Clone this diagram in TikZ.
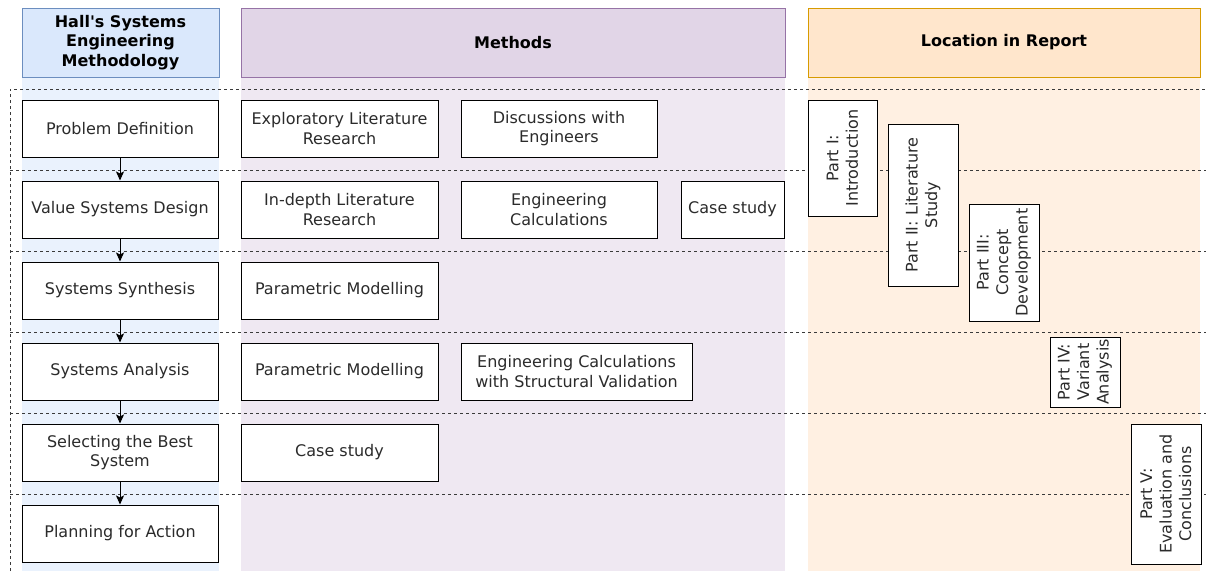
\documentclass[tikz,border=0pt]{standalone}
\usepackage{fontspec}
\setmainfont{DejaVu Sans}
\usetikzlibrary{arrows.meta}

\definecolor{blueHead}{HTML}{DAE8FC}
\definecolor{blueLine}{HTML}{6C8EBF}
\definecolor{blueBg}{HTML}{EAF2FD}
\definecolor{purpleHead}{HTML}{E1D5E7}
\definecolor{purpleLine}{HTML}{9673A6}
\definecolor{purpleBg}{HTML}{EFE8F2}
\definecolor{orangeHead}{HTML}{FFE6CC}
\definecolor{orangeLine}{HTML}{D79B00}
\definecolor{orangeBg}{HTML}{FFF0E2}
\definecolor{txt}{HTML}{2B2B2B}
\definecolor{dashcol}{HTML}{3A3A3A}

\tikzset{
  colhead/.style={draw, line width=1pt, inner sep=2pt, align=center,
    minimum height=69pt, font=\fontsize{16}{19.5}\selectfont\bfseries, text=black},
  stepbox/.style={draw=black, fill=white, line width=1pt, inner sep=2pt,
    align=center, minimum height=57pt, text=txt,
    font=\fontsize{16}{19.5}\selectfont},
  partbox/.style={stepbox, rotate=90},
  rowline/.style={draw=dashcol, line width=1pt, dash pattern=on 3pt off 3pt},
  flow/.style={draw=black, line width=1pt, -{Stealth[length=9pt,width=8pt,inset=2pt]}}
}

\begin{document}
\begin{tikzpicture}[x=1pt,y=-1pt]
\useasboundingbox (0,0) rectangle (1206,571);

% column backgrounds
\fill[blueBg]   (22,77)  rectangle (219,571);
\fill[purpleBg] (241,77) rectangle (785,571);
\fill[orangeBg] (808,77) rectangle (1200,571);

% column headers
\node[colhead, fill=blueHead, draw=blueLine, minimum width=197pt] (hall) at (120.5,42.5)
  {Hall\textquotesingle s Systems\\Engineering\\Methodology};
\node[colhead, fill=purpleHead, draw=purpleLine, minimum width=544pt] (methods) at (513,42.5)
  {Methods};
\node[colhead, fill=orangeHead, draw=orangeLine, minimum width=392pt] (loc) at (1004,42.5)
  {Location in Report};

% dashed row separators
\coordinate (frameTop) at (10,89);
\coordinate (frameBot) at (10,571);
\draw[rowline] (frameBot) -- (frameTop) -- (1206,89);
\foreach \y in {170,251,332,413,494}
  \draw[rowline] (10,\y) -- (1206,\y);

% methodology steps
\node[stepbox, minimum width=196pt] (s1) at (120,128.5) {Problem Definition};
\node[stepbox, minimum width=196pt] (s2) at (120,209.5) {Value Systems Design};
\node[stepbox, minimum width=196pt] (s3) at (120,290.5) {Systems Synthesis};
\node[stepbox, minimum width=196pt] (s4) at (120,371.5) {Systems Analysis};
\node[stepbox, minimum width=196pt] (s5) at (120,452.5) {Selecting the Best\\System};
\node[stepbox, minimum width=196pt] (s6) at (120,533.5) {Planning for Action};

\draw[flow] (s1) -- (s2);
\draw[flow] (s2) -- (s3);
\draw[flow] (s3) -- (s4);
\draw[flow] (s4) -- (s5);
\draw[flow] (s5) -- (s6);

% methods
\node[stepbox, minimum width=197pt] (m11) at (339.5,128.5) {Exploratory Literature\\Research};
\node[stepbox, minimum width=196pt] (m12) at (559,128.5) {Discussions with\\Engineers};
\node[stepbox, minimum width=197pt] (m21) at (339.5,209.5) {In-depth Literature\\Research};
\node[stepbox, minimum width=196pt] (m22) at (559,209.5) {Engineering\\Calculations};
\node[stepbox, minimum width=103pt] (m23) at (732.5,209.5) {Case study};
\node[stepbox, minimum width=197pt] (m3)  at (339.5,290.5) {Parametric Modelling};
\node[stepbox, minimum width=197pt] (m41) at (339.5,371.5) {Parametric Modelling};
\node[stepbox, minimum width=231pt] (m42) at (576.5,371.5) {Engineering Calculations\\with Structural Validation};
\node[stepbox, minimum width=197pt] (m5)  at (339.5,452.5) {Case study};

% report parts
\node[partbox, minimum width=116pt, minimum height=69pt] (p1) at (842.5,158) {Part I:\\Introduction};
\node[partbox, minimum width=162pt, minimum height=70pt] (p2) at (923,205) {Part II: Literature\\Study};
\node[partbox, minimum width=117pt, minimum height=70pt] (p3) at (1004,262.5) {Part III:\\Concept\\Development};
\node[partbox, minimum width=70pt, minimum height=70pt] (p4) at (1085,372) {Part IV:\\Variant\\Analysis};
\node[partbox, minimum width=140pt, minimum height=70pt] (p5) at (1166,494) {Part V:\\Evaluation and\\Conclusions};
\end{tikzpicture}
\end{document}
